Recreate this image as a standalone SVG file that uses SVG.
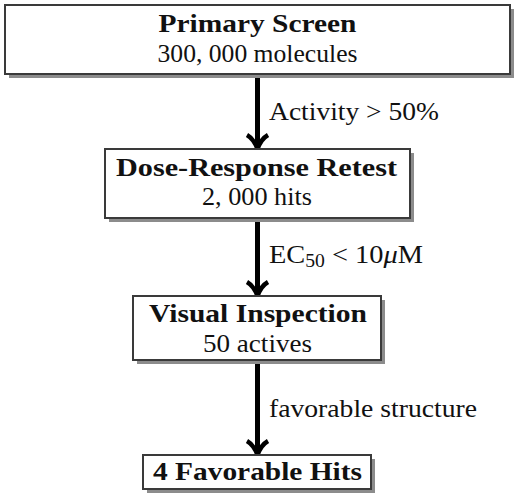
<svg xmlns="http://www.w3.org/2000/svg" width="520" height="500" viewBox="0 0 520 500">
<defs>
<style>
.box{fill:#fff;stroke:#3a3a3a;stroke-width:2}
.shadow{fill:#8c8c8c}
.t{font-family:"Liberation Serif","Times New Roman",serif;font-size:26px;fill:#111;text-anchor:middle}
.b{font-weight:bold}
.lbl{font-family:"Liberation Serif","Times New Roman",serif;font-size:26px;fill:#111}
.shaft{stroke:#000;stroke-width:5;fill:none}
.head{fill:none;stroke:#000;stroke-width:4.5}
</style>
</defs>
<g id="connectors">
<line class="shaft" x1="257.5" y1="75" x2="257.5" y2="146"/>
<path class="head" d="M247,135 Q254,139 257.5,149 Q261,139 268,135"/>
<line class="shaft" x1="257.5" y1="218" x2="257.5" y2="293"/>
<path class="head" d="M247,282 Q254,286 257.5,296 Q261,286 268,282"/>
<line class="shaft" x1="257.5" y1="360" x2="257.5" y2="452"/>
<path class="head" d="M247,441 Q254,445 257.5,455 Q261,445 268,441"/>
<text class="lbl" x="269" y="120" textLength="170" lengthAdjust="spacingAndGlyphs">Activity &gt; 50%</text>
<text class="lbl" x="269" y="263" textLength="154" lengthAdjust="spacingAndGlyphs">EC<tspan font-size="18" dy="4">50</tspan><tspan dy="-4"> &lt; 10</tspan><tspan font-style="italic">μ</tspan>M</text>
<text class="lbl" x="269" y="417" textLength="208" lengthAdjust="spacingAndGlyphs">favorable structure</text>
</g>
<g id="primary-screen">
<rect class="shadow" x="9" y="9" width="505" height="69"/>
<rect class="box" x="5" y="5" width="505" height="69"/>
<text class="t b" x="257.5" y="32" textLength="198" lengthAdjust="spacingAndGlyphs">Primary Screen</text>
<text class="t" x="257.5" y="62" textLength="200" lengthAdjust="spacingAndGlyphs">300, 000 molecules</text>
</g>
<g id="dose-response">
<rect class="shadow" x="109" y="153" width="305" height="69"/>
<rect class="box" x="105" y="149" width="305" height="69"/>
<text class="t b" x="256.5" y="176" textLength="281" lengthAdjust="spacingAndGlyphs">Dose-Response Retest</text>
<text class="t" x="257" y="205" textLength="110" lengthAdjust="spacingAndGlyphs">2, 000 hits</text>
</g>
<g id="visual-inspection">
<rect class="shadow" x="137" y="300" width="248" height="64"/>
<rect class="box" x="133" y="296" width="248" height="64"/>
<text class="t b" x="258" y="322" textLength="218" lengthAdjust="spacingAndGlyphs">Visual Inspection</text>
<text class="t" x="257.5" y="352" textLength="109" lengthAdjust="spacingAndGlyphs">50 actives</text>
</g>
<g id="favorable-hits">
<rect class="shadow" x="147" y="459" width="228" height="34"/>
<rect class="box" x="143" y="455" width="228" height="34"/>
<text class="t b" x="257.5" y="480" textLength="209" lengthAdjust="spacingAndGlyphs">4 Favorable Hits</text>
</g>
</svg>
